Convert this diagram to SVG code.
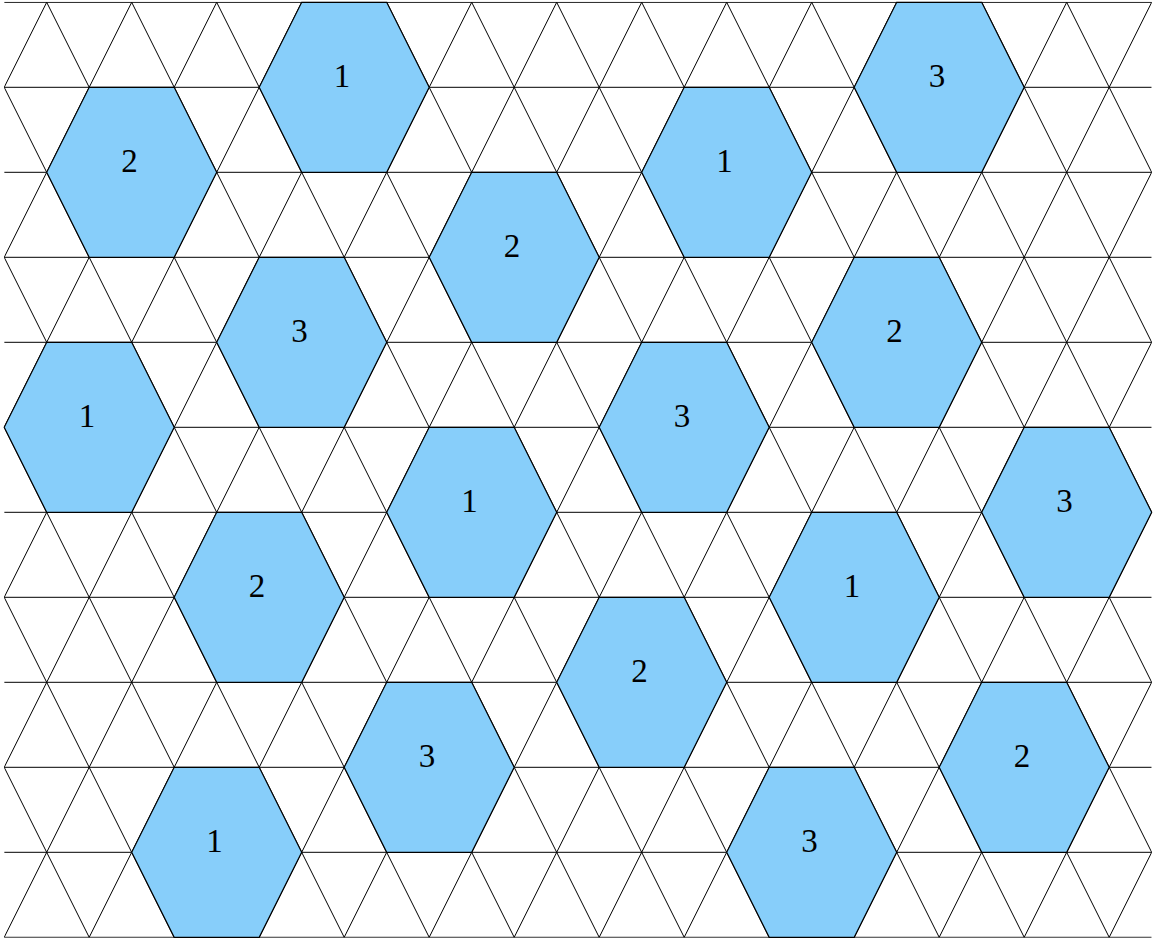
<svg xmlns="http://www.w3.org/2000/svg" xmlns:xlink="http://www.w3.org/1999/xlink" width="1154" height="939" viewBox="0 0 1154 939">
<style>
.grid{fill:none;stroke:#000;stroke-width:1}
.hex{fill:#87cefa;stroke:#000;stroke-width:1.2;stroke-linejoin:miter}
.lbl{font-family:"Liberation Serif","Times New Roman",serif;font-size:33px;fill:#000;text-anchor:middle}
</style>
<defs>
<clipPath id="clip"><rect x="4.2" y="1.8" width="1147.5" height="936"/></clipPath>
<path id="hx" d="M-85 0 L-42.5 -85 L42.5 -85 L85 0 L42.5 85 L-42.5 85 Z"/>
</defs>
<rect width="1154" height="939" fill="#fff"/>
<g id="grid" class="grid" clip-path="url(#clip)">
<path d="M4.2 2.3H1151.7M4.2 87.3H1151.7M4.2 172.3H1151.7M4.2 257.3H1151.7M4.2 342.3H1151.7M4.2 427.3H1151.7M4.2 512.3H1151.7M4.2 597.3H1151.7M4.2 682.3H1151.7M4.2 767.3H1151.7M4.2 852.3H1151.7M4.2 937.3H1151.7"/>
<path d="M-463.3 2.3l467.5 935M-378.3 2.3l467.5 935M-293.3 2.3l467.5 935M-208.3 2.3l467.5 935M-123.3 2.3l467.5 935M-38.3 2.3l467.5 935M46.7 2.3l467.5 935M131.7 2.3l467.5 935M216.7 2.3l467.5 935M301.7 2.3l467.5 935M386.7 2.3l467.5 935M471.7 2.3l467.5 935M556.7 2.3l467.5 935M641.7 2.3l467.5 935M726.7 2.3l467.5 935M811.7 2.3l467.5 935M896.7 2.3l467.5 935M981.7 2.3l467.5 935M1066.7 2.3l467.5 935M1151.7 2.3l467.5 935"/>
<path d="M46.7 2.3l-467.5 935M131.7 2.3l-467.5 935M216.7 2.3l-467.5 935M301.7 2.3l-467.5 935M386.7 2.3l-467.5 935M471.7 2.3l-467.5 935M556.7 2.3l-467.5 935M641.7 2.3l-467.5 935M726.7 2.3l-467.5 935M811.7 2.3l-467.5 935M896.7 2.3l-467.5 935M981.7 2.3l-467.5 935M1066.7 2.3l-467.5 935M1151.7 2.3l-467.5 935M1236.7 2.3l-467.5 935M1321.7 2.3l-467.5 935M1406.7 2.3l-467.5 935M1491.7 2.3l-467.5 935M1576.7 2.3l-467.5 935"/>
</g>
<g id="h01"><use xlink:href="#hx" class="hex" transform="translate(344.2 87.3)"/><text class="lbl" x="341.9" y="87.3">1</text></g>
<g id="h02"><use xlink:href="#hx" class="hex" transform="translate(939.2 87.3)"/><text class="lbl" x="936.9" y="87.3">3</text></g>
<g id="h03"><use xlink:href="#hx" class="hex" transform="translate(131.7 172.3)"/><text class="lbl" x="129.4" y="172.3">2</text></g>
<g id="h04"><use xlink:href="#hx" class="hex" transform="translate(726.7 172.3)"/><text class="lbl" x="724.4" y="172.3">1</text></g>
<g id="h05"><use xlink:href="#hx" class="hex" transform="translate(514.2 257.3)"/><text class="lbl" x="511.9" y="257.3">2</text></g>
<g id="h06"><use xlink:href="#hx" class="hex" transform="translate(301.7 342.3)"/><text class="lbl" x="299.4" y="342.3">3</text></g>
<g id="h07"><use xlink:href="#hx" class="hex" transform="translate(896.7 342.3)"/><text class="lbl" x="894.4" y="342.3">2</text></g>
<g id="h08"><use xlink:href="#hx" class="hex" transform="translate(89.2 427.3)"/><text class="lbl" x="86.9" y="427.3">1</text></g>
<g id="h09"><use xlink:href="#hx" class="hex" transform="translate(684.2 427.3)"/><text class="lbl" x="681.9" y="427.3">3</text></g>
<g id="h10"><use xlink:href="#hx" class="hex" transform="translate(471.7 512.3)"/><text class="lbl" x="469.4" y="512.3">1</text></g>
<g id="h11"><use xlink:href="#hx" class="hex" transform="translate(1066.7 512.3)"/><text class="lbl" x="1064.4" y="512.3">3</text></g>
<g id="h12"><use xlink:href="#hx" class="hex" transform="translate(259.2 597.3)"/><text class="lbl" x="256.9" y="597.3">2</text></g>
<g id="h13"><use xlink:href="#hx" class="hex" transform="translate(854.2 597.3)"/><text class="lbl" x="851.9" y="597.3">1</text></g>
<g id="h14"><use xlink:href="#hx" class="hex" transform="translate(641.7 682.3)"/><text class="lbl" x="639.4" y="682.3">2</text></g>
<g id="h15"><use xlink:href="#hx" class="hex" transform="translate(429.2 767.3)"/><text class="lbl" x="426.9" y="767.3">3</text></g>
<g id="h16"><use xlink:href="#hx" class="hex" transform="translate(1024.2 767.3)"/><text class="lbl" x="1021.9" y="767.3">2</text></g>
<g id="h17"><use xlink:href="#hx" class="hex" transform="translate(216.7 852.3)"/><text class="lbl" x="214.4" y="852.3">1</text></g>
<g id="h18"><use xlink:href="#hx" class="hex" transform="translate(811.7 852.3)"/><text class="lbl" x="809.4" y="852.3">3</text></g>
</svg>
